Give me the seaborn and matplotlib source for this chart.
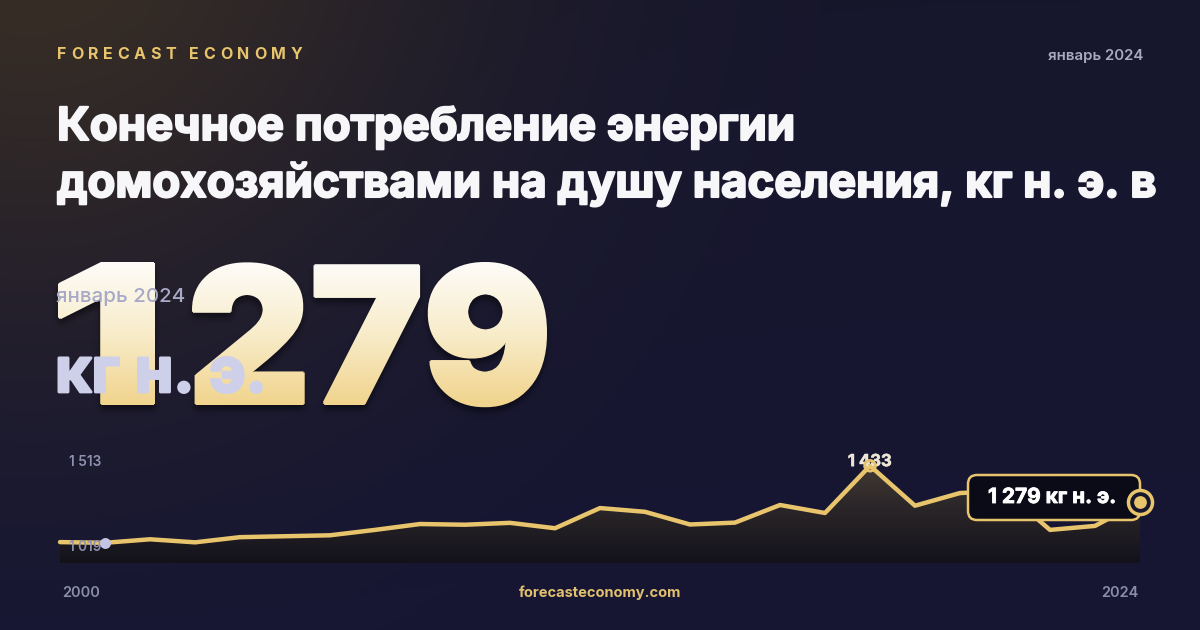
import numpy as np
import seaborn as sns
import matplotlib.pyplot as plt
import matplotlib.patheffects as pe
from matplotlib.figure import Figure
from matplotlib.backends.backend_agg import FigureCanvasAgg
from matplotlib.textpath import TextPath, text_to_path
from matplotlib.font_manager import FontProperties
from matplotlib.patches import PathPatch, FancyBboxPatch
from matplotlib.transforms import Affine2D
from matplotlib.colors import LinearSegmentedColormap

# data
years = list(range(2000, 2025))
values = [1108, 1105, 1120, 1107, 1129, 1133, 1137, 1160, 1185, 1182, 1190, 1167,
          1253, 1237, 1183, 1191, 1266, 1232, 1433, 1263, 1317, 1325, 1160, 1177, 1279]
axis_labels = ["1 513", "1 019"]
y_top, y_bottom = 1513, 1019
min_year, min_value = 2001, 1105
peak_year, peak_value = 2018, 1433
last_year, last_value = 2024, 1279

title_lines = ["Конечное потребление энергии",
               "домохозяйствами на душу населения, кг н. э. в"]
brand = "FORECAST ECONOMY"
period = "январь 2024"
unit = "кг н. э."
big_parts = ["1", "279"]
site = "forecasteconomy.com"

GOLD = "#e8c46c"
BG = np.array([22, 22, 44]) / 255
FAM = ["Inter", "DejaVu Sans"]


def heavy(color, lw):
    return [pe.withStroke(linewidth=lw, foreground=color)]


sns.set_theme(style="white")
plt.rcParams["font.family"] = FAM

fig = plt.figure(figsize=(12, 6.3), dpi=100)

# full-figure axes in pixel units
bg = fig.add_axes([0, 0, 1, 1])
bg.set_axis_off()

H, W = 630, 1200
yy, xx = np.mgrid[0:H, 0:W]
base = np.ones((H, W, 1)) * BG[None, None, :]
base[..., 2] += yy / H * 8 / 255
g = np.exp(-((xx - 30) ** 2 + (yy + 90) ** 2) / (2 * 300.0 ** 2))[..., None]
glow = np.array([56, 46, 38]) / 255
img = base * (1 - g) + glow * g
bg.imshow(img, extent=[0, W, H, 0], aspect="auto", zorder=0)
px = bg.transData

# header
fp_brand = FontProperties(family=FAM, weight="bold", size=16)
widths = [text_to_path.get_text_width_height_descent(c, fp_brand, ismath=False)[0] for c in brand]
spacing = (245 - sum(widths)) / (len(brand) - 1)
xpos = 57
for c, w in zip(brand, widths):
    bg.text(xpos, 59, c, fontsize=16 * 0.72, weight="bold", color=GOLD, va="baseline", zorder=3)
    xpos += w + spacing

bg.text(1143, 60, period, fontsize=10.8, weight="semibold", color="#a9a9c2",
        ha="right", va="baseline", zorder=3)

for i, line in enumerate(title_lines):
    bg.text(57, 140 + 57 * i, line, fontsize=32.8, weight="bold", color="#f7f7fa",
            va="baseline", zorder=3, path_effects=heavy("#f7f7fa", 1.5))

# big number: render glyph mask off-screen, thicken it, paint with a vertical gradient
fp_big = FontProperties(family=FAM, weight="black")
targets = [(60, 153), (194, 545)]
rx0, ry0, rx1, ry1 = 40, 240, 580, 425
off = Figure(figsize=((rx1 - rx0) / 100, (ry1 - ry0) / 100), dpi=100)
FigureCanvasAgg(off)
oax = off.add_axes([0, 0, 1, 1])
oax.set_axis_off()
for part, (x0, x1) in zip(big_parts, targets):
    tp = TextPath((0, 0), part, size=197, prop=fp_big)
    ext = tp.get_extents()
    sy = (403 - 264) / ext.y1
    sx = (x1 - x0) / ext.width
    tr = Affine2D().translate(-ext.x0, 0).scale(sx, -sy).translate(x0, 403)
    oax.add_patch(PathPatch(tr.transform_path(tp), fc="black", ec="none"))
oax.set_xlim(rx0, rx1)
oax.set_ylim(ry1, ry0)
off.canvas.draw()
mask = 1 - np.asarray(off.canvas.buffer_rgba())[..., 0] / 255.0
thick = mask.copy()
r = 2
for dy in range(-r, r + 1):
    for dx in range(-r, r + 1):
        if dx * dx + dy * dy <= r * r + 1:
            thick = np.maximum(thick, np.roll(np.roll(mask, dy, 0), dx, 1))
# soft shadow
shadow = thick.copy()
for _ in range(3):
    shadow = sum(np.roll(np.roll(shadow, a, 0), b, 1) for a in (-2, 0, 2) for b in (-2, 0, 2)) / 9
shadow = np.roll(shadow, 5, 0)
sh = np.zeros(thick.shape + (4,))
sh[..., 3] = shadow * 0.45
bg.imshow(sh, extent=[rx0, rx1, ry1, ry0], aspect="auto", zorder=1.9)

cmap_big = LinearSegmentedColormap.from_list("big", ["#fdfcf8", "#f8ecca", "#f1d48d"])
rows = np.arange(ry0, ry1) + 0.5
t = np.clip((rows - 262) / 143, 0, 1)
cols = cmap_big(t)[:, None, :] * np.ones((1, rx1 - rx0, 1))
cols[..., 3] = thick
bg.imshow(cols, extent=[rx0, rx1, ry1, ry0], aspect="auto", zorder=2)

bg.text(56, 302, period, fontsize=14.8, weight="medium", color="#a7a9c7",
        va="baseline", zorder=4)
bg.text(55, 392, unit, fontsize=45, weight="bold", color="#cdd0e8",
        va="baseline", zorder=4, path_effects=heavy("#cdd0e8", 2))

# footer
bg.text(62, 597, str(years[0]), fontsize=10.5, weight="semibold", color="#8b8da9",
        va="baseline")
bg.text(1138, 597, str(years[-1]), fontsize=10.5, weight="semibold", color="#8b8da9",
        ha="right", va="baseline")
bg.text(600, 597, site, fontsize=10.5, weight="bold", color="#e2c06e",
        ha="center", va="baseline")

bg.set_xlim(0, W)
bg.set_ylim(H, 0)

# chart
ax = fig.add_axes([60 / W, (H - 563) / H, 1080 / W, 116 / H])
ax.set_axis_off()
ax.patch.set_alpha(0)

poly = ax.fill_between(years, values, y_bottom, color="none", lw=0)
cmap_fill = LinearSegmentedColormap.from_list("fill", ["#13121b", "#2c2729", "#4d4338"])
fim = ax.imshow(np.linspace(0, 1, 200)[:, None], extent=[years[0], years[-1], y_bottom, y_top],
                origin="lower", cmap=cmap_fill, aspect="auto", zorder=1)
fim.set_clip_path(poly.get_paths()[0], transform=ax.transData)

sns.lineplot(x=years, y=values, ax=ax, color=GOLD, linewidth=3.2, zorder=3,
             solid_joinstyle="round", solid_capstyle="round", clip_on=False)

ax.text(69, 462, axis_labels[0], transform=px, fontsize=9.8, weight="semibold",
        color="#8f91b1", va="center", clip_on=False)
ax.text(69, 547, axis_labels[1], transform=px, fontsize=9.8, weight="semibold",
        color="#8f91b1", va="center", clip_on=False, zorder=4)

ax.scatter([min_year], [min_value], s=62, color="#c2c5e3", zorder=6, clip_on=False, lw=0)

ax.annotate("1 433", (peak_year, peak_value), xytext=(0, 3), textcoords="offset points",
            ha="center", va="center", fontsize=12, weight="bold", color="#ece6d6",
            zorder=4, annotation_clip=False, path_effects=heavy("#ece6d6", 0.4))
ax.scatter([peak_year], [peak_value], s=59, facecolor="none", edgecolor=GOLD,
           linewidth=2, zorder=5, clip_on=False)

box = FancyBboxPatch((968, 475), 172, 45, boxstyle="round,pad=0,rounding_size=9",
                     transform=px, fc="#0b0b18", ec=GOLD, lw=1.8, zorder=7, clip_on=False)
ax.add_patch(box)
ax.text(1052, 503, "1 279 " + unit, transform=px, fontsize=15, weight="bold",
        color="white", ha="center", va="baseline", zorder=8, clip_on=False,
        path_effects=heavy("white", 0.6))

ax.scatter([last_year], [last_value], s=300, facecolor="#16162c", edgecolor=GOLD,
           linewidth=2.5, zorder=9, clip_on=False)
ax.scatter([last_year], [last_value], s=85, color=GOLD, zorder=10, clip_on=False, lw=0)

ax.set_xlim(years[0], years[-1])
ax.set_ylim(y_bottom, y_top)

fig.savefig("out.png", dpi=100, facecolor="#16162c")
